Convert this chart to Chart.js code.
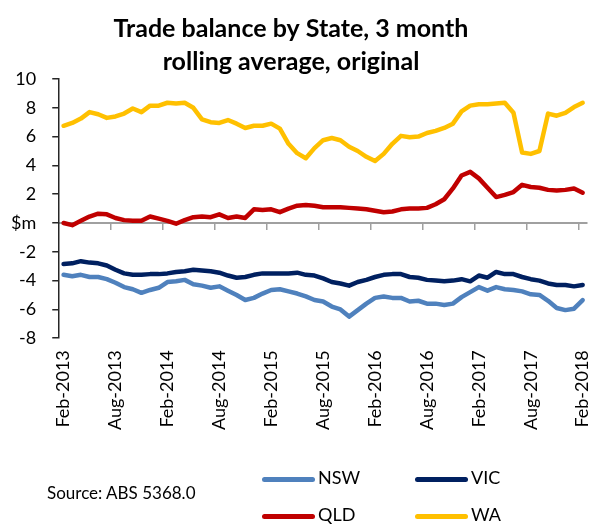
<!DOCTYPE html>
<html>
<head>
<meta charset="utf-8">
<script src="https://cdn.jsdelivr.net/npm/chart.js@4"></script>
<style>
  html, body { margin: 0; padding: 0; background: #fff; }
  #wrap { position: relative; width: 592px; height: 524px; font-family: Lato, sans-serif; color: #000; }
  #source { position: absolute; left: 47px; top: 482px; font-size: 17px; }
  .key { position: absolute; height: 22px; font-size: 18px; line-height: 22px; white-space: nowrap; }
  .key i { display: inline-block; width: 53px; height: 5px; border-radius: 3px; margin-right: 3px; vertical-align: middle; }
</style>
</head>
<body>
<div id="wrap">
  <canvas id="myChart" width="592" height="524"></canvas>
  <div id="source">Source: ABS 5368.0</div>
  <div id="legend"></div>
</div>
<script>
const months = [
  'Feb-2013', 'Mar-2013', 'Apr-2013', 'May-2013', 'Jun-2013', 'Jul-2013', 'Aug-2013', 'Sep-2013', 'Oct-2013', 'Nov-2013', 'Dec-2013',
  'Jan-2014', 'Feb-2014', 'Mar-2014', 'Apr-2014', 'May-2014', 'Jun-2014', 'Jul-2014', 'Aug-2014', 'Sep-2014', 'Oct-2014', 'Nov-2014', 'Dec-2014',
  'Jan-2015', 'Feb-2015', 'Mar-2015', 'Apr-2015', 'May-2015', 'Jun-2015', 'Jul-2015', 'Aug-2015', 'Sep-2015', 'Oct-2015', 'Nov-2015', 'Dec-2015',
  'Jan-2016', 'Feb-2016', 'Mar-2016', 'Apr-2016', 'May-2016', 'Jun-2016', 'Jul-2016', 'Aug-2016', 'Sep-2016', 'Oct-2016', 'Nov-2016', 'Dec-2016',
  'Jan-2017', 'Feb-2017', 'Mar-2017', 'Apr-2017', 'May-2017', 'Jun-2017', 'Jul-2017', 'Aug-2017', 'Sep-2017', 'Oct-2017', 'Nov-2017', 'Dec-2017',
  'Jan-2018', 'Feb-2018'
];

// $m, 3 month rolling average
const nsw = [
  -3.6, -3.7, -3.6, -3.75, -3.75, -3.9, -4.15, -4.45, -4.6, -4.85, -4.65,
  -4.5, -4.1, -4.05, -3.95, -4.25, -4.35, -4.5, -4.4, -4.7, -5.0, -5.35, -5.2,
  -4.9, -4.65, -4.6, -4.75, -4.9, -5.1, -5.35, -5.45, -5.8, -6.0, -6.5, -6.05,
  -5.6, -5.2, -5.1, -5.2, -5.2, -5.45, -5.4, -5.6, -5.6, -5.7, -5.6, -5.15,
  -4.8, -4.45, -4.7, -4.45, -4.6, -4.65, -4.75, -4.95, -5.0, -5.4, -5.9, -6.05,
  -5.95, -5.35
];
const vic = [
  -2.85, -2.8, -2.65, -2.75, -2.8, -2.95, -3.25, -3.5, -3.6, -3.6, -3.55,
  -3.55, -3.5, -3.4, -3.35, -3.25, -3.3, -3.35, -3.45, -3.65, -3.8, -3.75, -3.6,
  -3.5, -3.5, -3.5, -3.5, -3.45, -3.6, -3.65, -3.85, -4.1, -4.2, -4.35, -4.1,
  -3.95, -3.75, -3.6, -3.55, -3.55, -3.75, -3.8, -3.95, -4.0, -4.05, -4.0, -3.9,
  -4.05, -3.65, -3.8, -3.4, -3.55, -3.55, -3.75, -3.9, -4.0, -4.2, -4.3, -4.3,
  -4.4, -4.3
];
const qld = [
  0.0, -0.15, 0.15, 0.45, 0.65, 0.6, 0.35, 0.2, 0.15, 0.15, 0.45,
  0.3, 0.15, -0.05, 0.2, 0.4, 0.45, 0.4, 0.6, 0.35, 0.45, 0.35, 0.95,
  0.9, 0.95, 0.75, 1.0, 1.2, 1.25, 1.2, 1.1, 1.1, 1.1, 1.05, 1.0,
  0.95, 0.85, 0.75, 0.8, 0.95, 1.0, 1.0, 1.05, 1.3, 1.65, 2.4, 3.3,
  3.55, 3.1, 2.45, 1.8, 1.95, 2.15, 2.65, 2.5, 2.45, 2.3, 2.25, 2.3,
  2.4, 2.1
];
const wa = [
  6.75, 6.95, 7.25, 7.7, 7.55, 7.3, 7.4, 7.6, 7.95, 7.7, 8.15,
  8.15, 8.35, 8.3, 8.35, 8.0, 7.2, 7.0, 6.95, 7.15, 6.9, 6.6, 6.75,
  6.75, 6.9, 6.55, 5.5, 4.85, 4.5, 5.2, 5.75, 5.9, 5.75, 5.3, 5.0,
  4.6, 4.3, 4.8, 5.5, 6.05, 5.95, 6.0, 6.25, 6.4, 6.6, 6.9, 7.75,
  8.15, 8.25, 8.25, 8.3, 8.35, 7.65, 4.9, 4.8, 5.0, 7.6, 7.45, 7.65,
  8.05, 8.35
];

const seriesNames = ['NSW', 'VIC', 'QLD', 'WA'];
const seriesColors = ['#4f81bd', '#002060', '#c00000', '#ffc000'];
const yTicks = [-8, -6, -4, -2, 0, 2, 4, 6, 8, 10];

const font = { family: 'Lato', size: 18 };

const ctx = document.getElementById('myChart');

const chart = new Chart(ctx, {
  type: 'line',
  data: {
    labels: months,
    datasets: [nsw, vic, qld, wa].map((d, i) => ({
      label: seriesNames[i],
      data: d,
      borderColor: seriesColors[i],
      backgroundColor: seriesColors[i],
      borderWidth: 4.5,
      pointRadius: 0,
      tension: 0,
      borderJoinStyle: 'round',
      borderCapStyle: 'round'
    }))
  },
  options: {
    responsive: false,
    animation: false,
    layout: { padding: { left: -5, right: 5, top: 4, bottom: 94 } },
    plugins: {
      legend: { display: false },
      tooltip: { enabled: false },
      title: {
        display: true,
        text: ['Trade balance by State, 3 month', 'rolling average, original'],
        color: '#000',
        font: { family: 'Lato', size: 25, weight: 'bold', lineHeight: 1.3 },
        padding: { top: 9, bottom: 1 }
      }
    },
    scales: {
      // zero line with tick marks every 6 months
      x: {
        type: 'category',
        position: { y: 0 },
        offset: true,
        ticks: { display: false, autoSkip: false, padding: 0, font: { size: 1 } },
        grid: {
          offset: true,
          drawOnChartArea: false,
          tickLength: 6,
          lineWidth: 1.5,
          color: (c) => (c.index > 0 && c.index % 6 === 0) ? '#a0a0a0' : 'rgba(0,0,0,0)'
        },
        border: { display: true, color: '#a0a0a0', width: 2 }
      },
      xLabels: {
        type: 'category',
        position: 'bottom',
        offset: true,
        grid: { display: false, drawTicks: true, tickLength: 12 },
        border: { display: false },
        ticks: {
          autoSkip: false,
          minRotation: 90,
          maxRotation: 90,
          padding: 0,
          color: '#000',
          font: { family: 'Lato', size: 18, lineHeight: 0.5 },
          callback: (v, i) => (i % 6 === 0 ? months[i] : '')
        }
      },
      y: {
        min: -8,
        max: 10,
        afterBuildTicks: (s) => { s.ticks = yTicks.map(v => ({ value: v })); },
        ticks: {
          color: '#000',
          font: font,
          padding: 16,
          callback: (v) => (v === 0 ? '$m' : v)
        },
        grid: { drawOnChartArea: false, tickLength: 7, color: '#262626', lineWidth: 1.5 },
        border: { color: '#262626', width: 1.5 }
      }
    }
  }
});

// legend, two rows of two
const legendPos = [[262, 466], [415, 466], [262, 503], [415, 503]];
const legend = document.getElementById('legend');
chart.data.datasets.forEach((ds, i) => {
  const el = document.createElement('div');
  el.className = 'key';
  el.style.left = legendPos[i][0] + 'px';
  el.style.top = legendPos[i][1] + 'px';
  el.innerHTML = '<i style="background:' + ds.borderColor + '"></i>' + ds.label;
  legend.appendChild(el);
});
</script>
</body>
</html>
